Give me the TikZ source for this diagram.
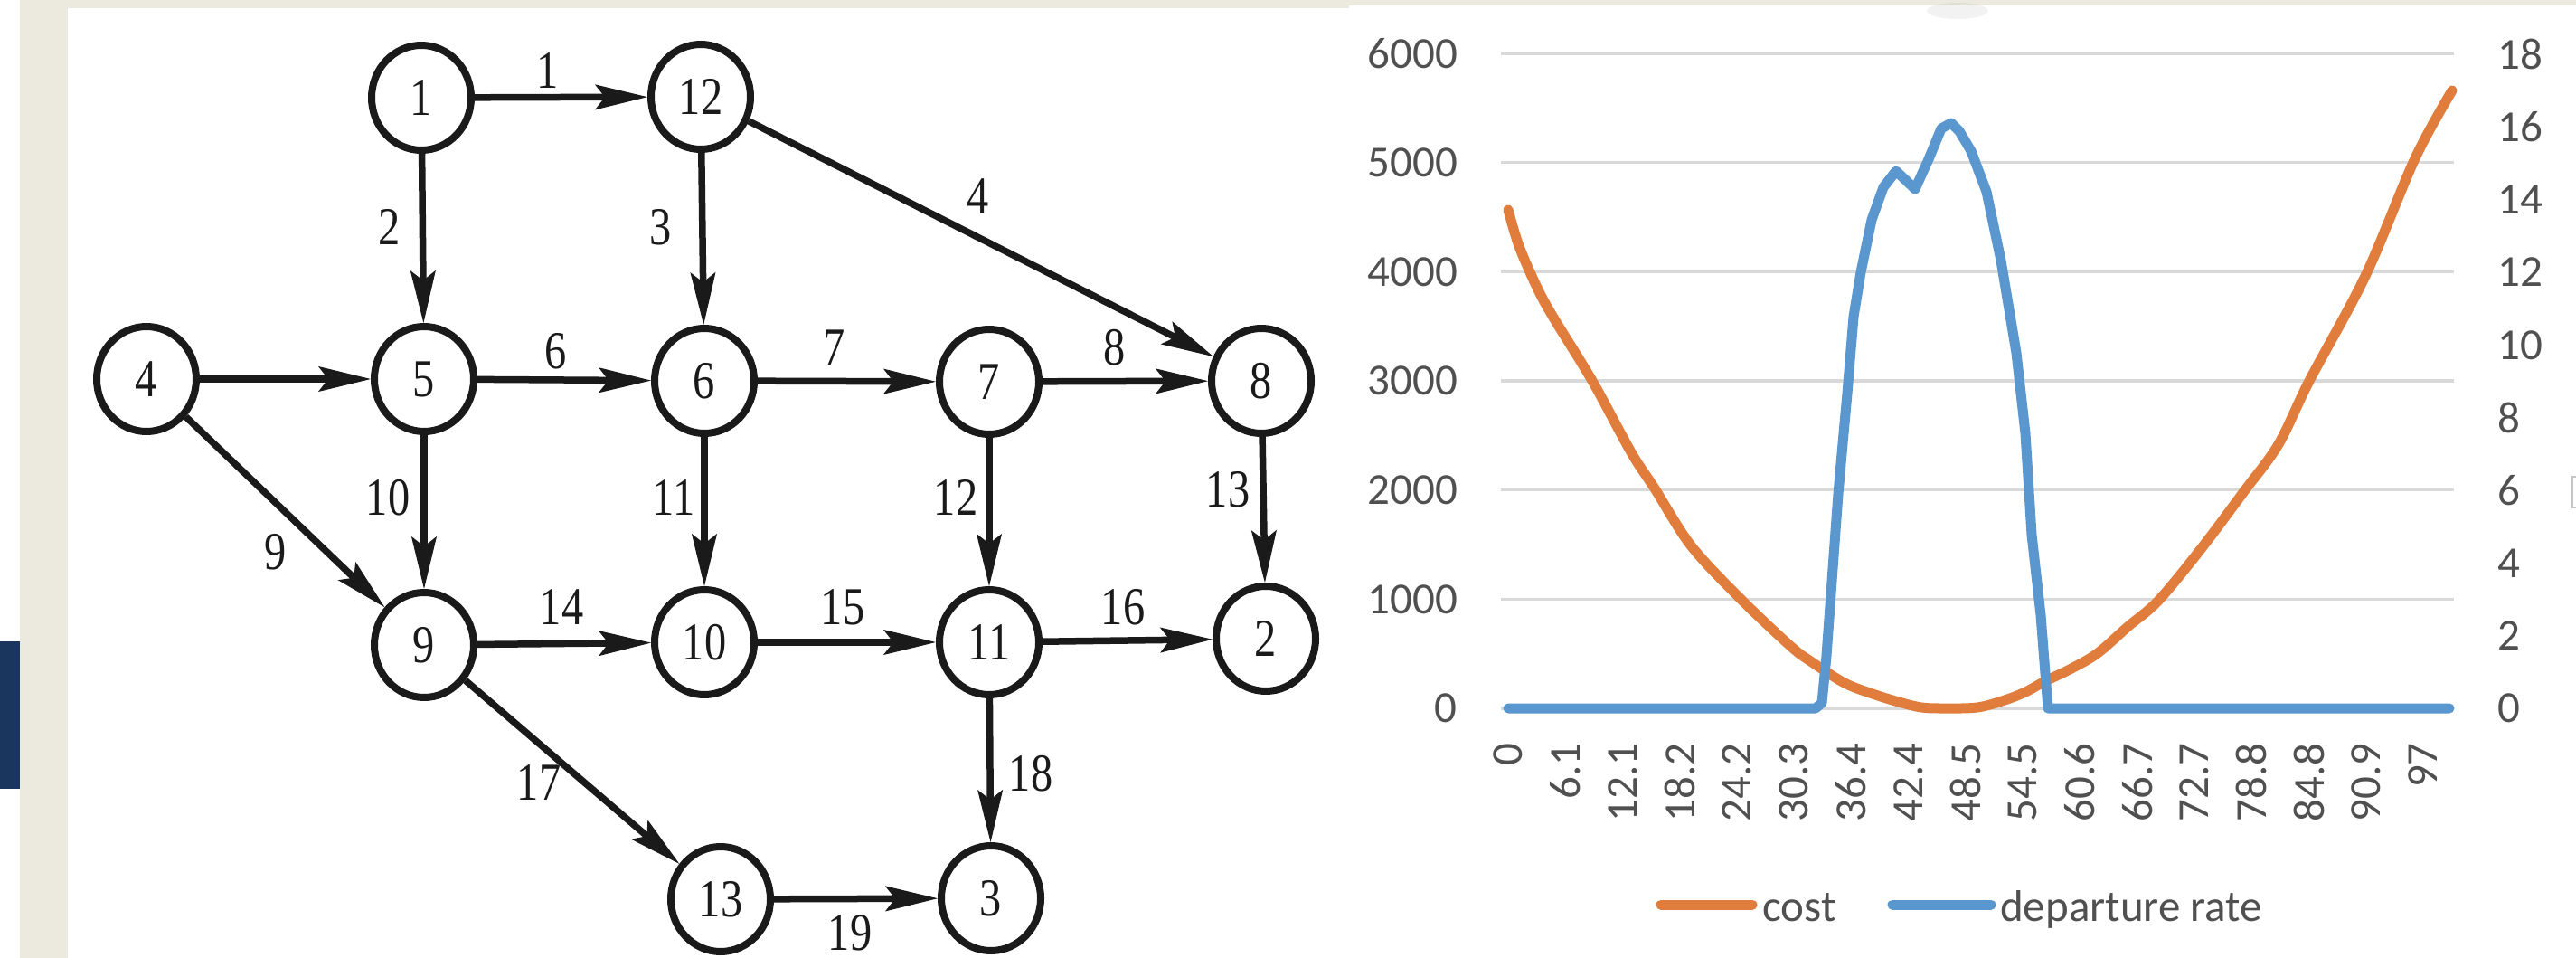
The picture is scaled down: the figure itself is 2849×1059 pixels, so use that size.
\documentclass[tikz,border=0pt]{standalone}
\usepackage{fontspec}
\setmainfont{Liberation Serif}
\newfontfamily\graphfont[FakeStretch=0.82]{Liberation Serif}
\newfontfamily\chartfont{Carlito}
\usetikzlibrary{arrows.meta,shapes.geometric}
\definecolor{beige}{RGB}{236,234,223}
\definecolor{navy}{RGB}{26,54,94}
\definecolor{inkblack}{RGB}{26,26,26}
\definecolor{costorange}{RGB}{225,125,60}
\definecolor{rateblue}{RGB}{91,151,207}
\definecolor{gridgray}{RGB}{217,217,217}
\definecolor{txtgray}{RGB}{80,80,80}
\begin{document}
\begin{tikzpicture}[x=1pt,y=-1pt,
  vertex/.style={ellipse, draw=inkblack, line width=8pt, minimum width=110pt, minimum height=116pt, inner sep=0pt, font={\graphfont\fontsize{59pt}{59pt}\selectfont}, text=inkblack},
  elabel/.style={inner sep=0pt, font={\graphfont\fontsize{59pt}{59pt}\selectfont}, text=inkblack},
  link/.style={line width=7.5pt, draw=inkblack, -{Stealth[length=58pt,width=28pt,inset=11pt,line width=1pt]}},
  gridline/.style={line width=3.5pt, draw=gridgray},
  axlab/.style={inner sep=0pt, font={\chartfont\fontsize{49pt}{49pt}\selectfont}, text=txtgray},
  curve/.style={line width=11pt, line cap=round, line join=round}
]
\useasboundingbox (0,0) rectangle (2849,1059);
% background
\fill[white] (0,0) rectangle (2849,1059);
\fill[beige] (22,0) rectangle (1492,9);
\fill[beige] (1492,0) rectangle (2849,6);
\fill[beige] (22,0) rectangle (75,1059);
\fill[navy] (0,709) rectangle (22,872);
\fill[gray, opacity=0.10] (2165,12) ellipse (34 and 9);
\draw[gray!45, line width=1.5pt] (2849,527) -- (2845,527) -- (2845,561) -- (2849,561);

% ---------- network ----------
\node[vertex] (n1)  at (466,108) {1};
\node[vertex] (n12) at (775,107) {12};
\node[vertex] (n4)  at (162,419) {4};
\node[vertex] (n5)  at (469,419) {5};
\node[vertex] (n6)  at (779,421) {6};
\node[vertex] (n7)  at (1094,422) {7};
\node[vertex] (n8)  at (1395,421) {8};
\node[vertex] (n9)  at (469,713) {9};
\node[vertex] (n10) at (779,710) {10};
\node[vertex] (n11) at (1094,710) {11};
\node[vertex] (n2)  at (1400,706) {2};
\node[vertex] (n13) at (797,994) {13};
\node[vertex] (n3)  at (1096,993) {3};

\draw[link] (n1) -- (n12);
\draw[link] (n1) -- (n5);
\draw[link] (n12) -- (n6);
\draw[link] (n12) -- (n8);
\draw[link] (n4) -- (n5);
\draw[link] (n5) -- (n6);
\draw[link] (n6) -- (n7);
\draw[link] (n7) -- (n8);
\draw[link] (n4) -- (n9);
\draw[link] (n5) -- (n9);
\draw[link] (n6) -- (n10);
\draw[link] (n7) -- (n11);
\draw[link] (n8) -- (n2);
\draw[link] (n9) -- (n10);
\draw[link] (n10) -- (n11);
\draw[link] (n11) -- (n2);
\draw[link] (n9) -- (n13);
\draw[link] (n11) -- (n3);
\draw[link] (n13) -- (n3);

\node[elabel] (e1)  at (606,78) {1};
\node[elabel] (e2)  at (431,251) {2};
\node[elabel] (e3)  at (731,251) {3};
\node[elabel] (e4)  at (1082,217) {4};
\node[elabel] (e6)  at (615,388) {6};
\node[elabel] (e7)  at (923,384) {7};
\node[elabel] (e8)  at (1233,384) {8};
\node[elabel] (e9)  at (305,610) {9};
\node[elabel] (e10) at (429,550) {10};
\node[elabel] (e11) at (745,550) {11};
\node[elabel] (e12) at (1057,550) {12};
\node[elabel] (e13) at (1358,541) {13};
\node[elabel] (e14) at (621,671) {14};
\node[elabel] (e15) at (932,671) {15};
\node[elabel] (e16) at (1242,671) {16};
\node[elabel] (e17) at (596,865) {17};
\node[elabel] (e18) at (1140,855) {18};
\node[elabel] (e19) at (940,1031) {19};

% ---------- chart ----------
\foreach \k in {0,...,6}
  \draw[gridline] (1660,{783-120.67*\k}) -- (2714,{783-120.67*\k});
\foreach \k/\v in {0/0,1/1000,2/2000,3/3000,4/4000,5/5000,6/6000}
  \node[axlab, anchor=east] (yl\k) at (1612,{783-120.67*\k}) {\v};
\foreach \v in {0,2,4,6,8,10,12,14,16,18}
  \node[axlab, anchor=west] (yr\v) at (2762,{783-40.17*\v}) {\v};
\foreach \l [count=\k from 0] in {0,6.1,12.1,18.2,24.2,30.3,36.4,42.4,48.5,54.5,60.6,66.7,72.7,78.8,84.8,90.9,97}
  \node[axlab, rotate=90, anchor=east] (xl\k) at ({1668+63.25*\k},821) {\l};

% cost curve
\draw[curve, costorange] plot[smooth, tension=0.55] coordinates {
 (1668,232) (1680,272) (1700,318) (1718,351) (1761,421) (1804,500) (1830,540) (1870,603)
 (1923,660) (1980,714) (2004,732) (2040,755) (2071,767) (2100,776) (2125,782)
 (2150,783) (2187,782) (2217,774) (2240,765) (2262,753) (2291,739) (2320,722)
 (2353,693) (2387,664) (2434,607) (2482,543) (2520,491) (2554,421) (2616,305)
 (2671,175) (2712,100)};

% departure rate curve
\draw[curve, rateblue] (1668,783) -- (2008,783) -- (2015,777) -- (2020,725) -- (2033,546)
 -- (2043,435) -- (2050,350) -- (2058,301) -- (2070,243) -- (2083,207) -- (2097,189)
 -- (2118,209) -- (2133,176) -- (2147,142) -- (2158,136) -- (2167,145) -- (2180,167)
 -- (2197,212) -- (2213,288) -- (2230,390) -- (2240,479) -- (2247,591) -- (2257,680)
 -- (2265,783) -- (2709,783);

% legend
\draw[curve, costorange] (1837,1000) -- (1938,1000);
\node[axlab, anchor=base west] (lgcost) at (1949,1018) {cost};
\draw[curve, rateblue] (2093,1000) -- (2202,1000);
\node[axlab, anchor=base west] (lgrate) at (2212,1018) {departure rate};
\end{tikzpicture}
\end{document}
